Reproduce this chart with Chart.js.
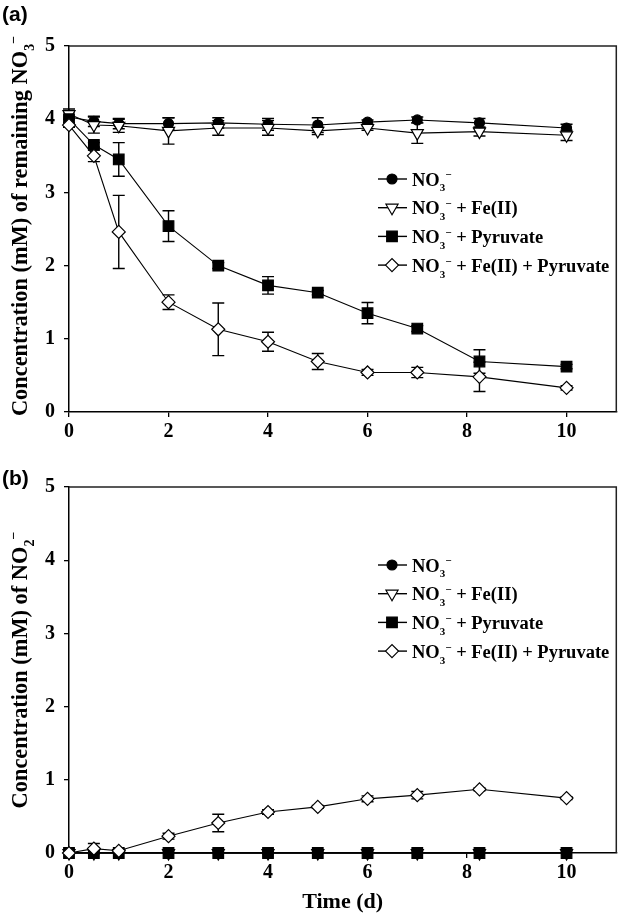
<!DOCTYPE html>
<html>
<head>
<meta charset="utf-8">
<script src="https://cdn.jsdelivr.net/npm/chart.js@4/dist/chart.umd.min.js"></script>
<style>
  body { margin: 0; background: #fff; width: 625px; height: 922px; position: relative; overflow: hidden; }
  canvas { position: absolute; left: 0; }
  #chartA { top: 0; }
  #chartB { top: 460px; }
</style>
</head>
<body>
<canvas id="chartA" width="625" height="460"></canvas>
<canvas id="chartB" width="625" height="462"></canvas>
<script>
// ===== DATA =====
// sampling times (d)
const days = [0, 0.5, 1, 2, 3, 4, 5, 6, 7, 8.25, 10];
const xTicks = [0, 2, 4, 6, 8, 10];
const yTicks = [0, 1, 2, 3, 4, 5];

// series names, _x = subscript char, ^x = superscript char
const seriesNames = [
  'NO_3^−',
  'NO_3^− + Fe(II)',
  'NO_3^− + Pyruvate',
  'NO_3^− + Fe(II) + Pyruvate'
];

// (a) remaining nitrate (mM) and error bars
const nitrateA      = [4.03, 3.97, 3.94, 3.94, 3.95, 3.93, 3.92, 3.96, 3.99, 3.95, 3.88];
const nitrateErrA   = [0.08, 0.07, 0.07, 0.08, 0.07, 0.08, 0.10, 0.03, 0.04, 0.06, 0.05];
const ironA         = [4.07, 3.92, 3.91, 3.84, 3.88, 3.88, 3.84, 3.88, 3.81, 3.83, 3.78];
const ironErrA      = [0.07, 0.11, 0.09, 0.18, 0.10, 0.10, 0.05, 0.03, 0.14, 0.06, 0.07];
const pyruvateA     = [4.00, 3.65, 3.45, 2.54, 2.00, 1.73, 1.63, 1.35, 1.14, 0.69, 0.62];
const pyruvateErrA  = [0.10, 0.03, 0.23, 0.21, 0.04, 0.12, 0.03, 0.145, 0.04, 0.16, 0.03];
const ironPyrA      = [3.92, 3.50, 2.46, 1.50, 1.13, 0.96, 0.69, 0.54, 0.54, 0.48, 0.33];
const ironPyrErrA   = [0.03, 0.08, 0.50, 0.10, 0.36, 0.13, 0.11, 0.04, 0.07, 0.20, 0.03];

// (b) nitrite (mM) and error bars
const nitrateB      = [0, 0, 0, 0, 0, 0, 0, 0, 0, 0, 0];
const ironB         = [0, 0, 0, 0, 0, 0, 0, 0, 0, 0, 0];
const pyruvateB     = [0, 0, 0, 0, 0, 0, 0, 0, 0, 0, 0];
const ironPyrB      = [0, 0.06, 0.03, 0.23, 0.41, 0.56, 0.63, 0.74, 0.79, 0.87, 0.75];
const ironPyrErrB   = [0, 0.07, 0.02, 0.04, 0.12, 0.03, 0.02, 0.04, 0.05, 0.02, 0.02];

// ===== STYLE =====
const SERIF = '"Liberation Serif", "Times New Roman", serif';
const markers = [
  { pointStyle: 'circle',   radius: 5,   rotation: 0,   fill: '#000' },
  { pointStyle: 'triangle', radius: 7,   rotation: 180, fill: '#fff' },
  { pointStyle: 'rect',     radius: 7.5, rotation: 0,   fill: '#000' },
  { pointStyle: 'rectRot',  radius: 6.5, rotation: 0,   fill: '#fff' }
];

// split 'NO_3^−' into pieces [text, mode]
function parseChem(str) {
  const parts = [];
  let buf = '';
  for (let i = 0; i < str.length; i++) {
    const c = str[i];
    if ((c === '_' || c === '^') && i + 1 < str.length) {
      if (buf) { parts.push([buf, '']); buf = ''; }
      parts.push([str[i + 1], c === '_' ? 'sub' : 'sup']);
      i++;
    } else {
      buf += c;
    }
  }
  if (buf) parts.push([buf, '']);
  return parts;
}

function plainText(str) {
  return str.replace(/[_^]/g, '');
}

// draws (or only measures) chemistry text, returns width
function drawChem(ctx, str, x, y, size, draw) {
  let cx = x;
  parseChem(str).forEach(function(p) {
    const small = p[1] !== '';
    ctx.font = 'bold ' + (small ? Math.round(size * 0.62) : size) + 'px ' + SERIF;
    let dy = 0;
    if (p[1] === 'sub') dy = size * 0.32;
    if (p[1] === 'sup') dy = -size * 0.38;
    if (draw) ctx.fillText(p[0], cx, y + dy);
    cx += ctx.measureText(p[0]).width;
  });
  return cx - x;
}

// ===== PLUGINS =====
// error bars drawn under the lines and markers
const errorBarPlugin = {
  id: 'errorBars',
  beforeDatasetsDraw: function(chart) {
    const ctx = chart.ctx;
    const xs = chart.scales.x;
    const ys = chart.scales.y;
    ctx.save();
    ctx.strokeStyle = '#000';
    ctx.lineWidth = 1.4;
    chart.data.datasets.forEach(function(ds) {
      if (!ds.errors) return;
      ds.data.forEach(function(pt, i) {
        const err = ds.errors[i];
        if (!err) return;
        const px = xs.getPixelForValue(pt.x);
        const top = ys.getPixelForValue(pt.y + err);
        const bot = ys.getPixelForValue(pt.y - err);
        ctx.beginPath();
        ctx.moveTo(px, top); ctx.lineTo(px, bot);
        ctx.moveTo(px - 6, top); ctx.lineTo(px + 6, top);
        ctx.moveTo(px - 6, bot); ctx.lineTo(px + 6, bot);
        ctx.stroke();
      });
    });
    ctx.restore();
  }
};

// frame, panel tag, y title and the in-plot legend
const decorPlugin = {
  id: 'decor',
  afterDraw: function(chart, args, opts) {
    const ctx = chart.ctx;
    const area = chart.chartArea;
    ctx.save();

    // top + right frame lines
    ctx.strokeStyle = '#222';
    ctx.lineWidth = 1.5;
    ctx.beginPath();
    ctx.moveTo(area.left, area.top);
    ctx.lineTo(area.right, area.top);
    ctx.lineTo(area.right, area.bottom);
    ctx.stroke();

    // panel tag
    ctx.fillStyle = '#000';
    ctx.textBaseline = 'alphabetic';
    ctx.font = 'bold 21px "Liberation Sans", Arial, sans-serif';
    ctx.fillText(opts.tag, 2, opts.tagY);

    // rotated y title
    const w = drawChem(ctx, opts.yTitle, 0, 0, 22.4, false);
    ctx.save();
    ctx.translate(opts.titleX, (area.top + area.bottom) / 2 + opts.titleShift);
    ctx.rotate(-Math.PI / 2);
    drawChem(ctx, opts.yTitle, -w / 2, 0, 22.4, true);
    ctx.restore();

    // legend
    seriesNames.forEach(function(name, i) {
      const y = opts.legendY + i * 28.7;
      ctx.strokeStyle = '#000';
      ctx.lineWidth = 1.4;
      ctx.beginPath();
      ctx.moveTo(378, y); ctx.lineTo(407, y);
      ctx.stroke();
      const m = markers[i];
      ctx.fillStyle = m.fill;
      ctx.lineWidth = 1.2;
      Chart.helpers.drawPoint(ctx, {
        pointStyle: m.pointStyle, radius: m.radius, rotation: m.rotation, borderWidth: 1.2
      }, 392, y);
      ctx.fillStyle = '#000';
      drawChem(ctx, name, 412, y + 6.5, 18.5, true);
    });
    ctx.restore();
  }
};

// ===== CHART BUILDER =====
function makeDataset(idx, values, errors, order) {
  const m = markers[idx];
  return {
    label: plainText(seriesNames[idx]),
    data: values.map(function(v, i) { return { x: days[i], y: v }; }),
    errors: errors,
    borderColor: '#000',
    borderWidth: 1.1,
    pointStyle: m.pointStyle,
    pointRadius: m.radius,
    pointRotation: m.rotation,
    pointBackgroundColor: m.fill,
    pointBorderColor: '#000',
    pointBorderWidth: 1.2,
    fill: false,
    tension: 0,
    clip: false,
    order: order
  };
}

function buildChart(canvasId, datasets, cfg) {
  const tickFont = { family: SERIF, size: 20, weight: 'bold' };
  return new Chart(document.getElementById(canvasId), {
    type: 'line',
    data: { datasets: datasets },
    options: {
      responsive: false,
      animation: false,
      devicePixelRatio: 1,
      layout: { padding: { left: 0, top: cfg.padTop, right: cfg.padRight, bottom: 0 } },
      plugins: {
        legend: { display: false },
        tooltip: { enabled: false },
        decor: cfg.decor
      },
      scales: {
        x: {
          type: 'linear',
          min: 0,
          max: 11,
          afterBuildTicks: function(scale) {
            scale.ticks = xTicks.map(function(v) { return { value: v }; });
          },
          afterFit: function(scale) { scale.height = cfg.xHeight; },
          grid: { display: true, drawOnChartArea: false, drawTicks: true, tickLength: 5, color: '#000', lineWidth: 1.3 },
          border: { display: true, color: '#000', width: 1.5 },
          ticks: { color: '#000', font: tickFont, padding: 3, maxRotation: 0 },
          title: {
            display: cfg.xTitle !== '',
            text: cfg.xTitle,
            color: '#000',
            font: { family: SERIF, size: 22, weight: 'bold' },
            padding: { top: 0, bottom: 6 }
          }
        },
        y: {
          type: 'linear',
          min: 0,
          max: 5,
          afterBuildTicks: function(scale) {
            scale.ticks = yTicks.map(function(v) { return { value: v }; });
          },
          afterFit: function(scale) { scale.width = 69; },
          grid: { display: true, drawOnChartArea: false, drawTicks: true, tickLength: 5, color: '#000', lineWidth: 1.3 },
          border: { display: true, color: '#000', width: 1.5 },
          ticks: { color: '#000', font: tickFont, padding: 9 }
        }
      }
    },
    plugins: [errorBarPlugin, decorPlugin]
  });
}

// ===== PANEL (a) =====
buildChart('chartA', [
  makeDataset(0, nitrateA, nitrateErrA, 4),
  makeDataset(1, ironA, ironErrA, 3),
  makeDataset(2, pyruvateA, pyruvateErrA, 2),
  makeDataset(3, ironPyrA, ironPyrErrA, 1)
], {
  padTop: 46, padRight: 4, xHeight: 48, xTitle: '',
  decor: { tag: '(a)', tagY: 21, yTitle: 'Concentration (mM) of remaining NO_3^−', titleX: 27, titleShift: -3, legendY: 179 }
});

// ===== PANEL (b) =====
buildChart('chartB', [
  makeDataset(0, nitrateB, null, 4),
  makeDataset(1, ironB, null, 3),
  makeDataset(2, pyruvateB, null, 2),
  makeDataset(3, ironPyrB, ironPyrErrB, 1)
], {
  padTop: 27, padRight: 3, xHeight: 69, xTitle: 'Time (d)',
  decor: { tag: '(b)', tagY: 25, yTitle: 'Concentration (mM) of NO_2^−', titleX: 27, titleShift: 0, legendY: 105 }
});
</script>
</body>
</html>
